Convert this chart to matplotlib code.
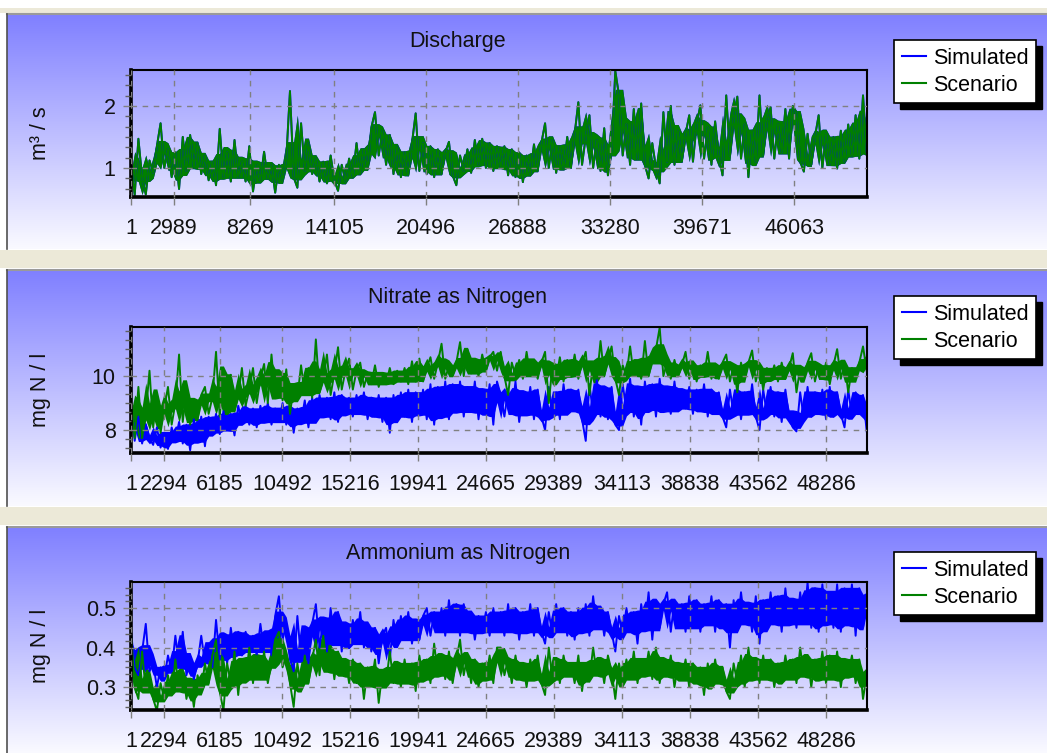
import numpy as np
import pandas as pd
import matplotlib
matplotlib.use('Agg')
import matplotlib.pyplot as plt
from matplotlib.patches import Rectangle
from matplotlib.lines import Line2D
from matplotlib.ticker import AutoMinorLocator

plt.rcParams['font.family'] = ['Liberation Sans', 'DejaVu Sans']

W, H = 1047, 753

# model time steps (200 read-off points across the run)
n_steps = 51100
timesteps = np.linspace(1, n_steps, 200)

discharge_ticks = [1, 2989, 8269, 14105, 20496, 26888, 33280, 39671, 46063]
quality_ticks = [1, 2294, 6185, 10492, 15216, 19941, 24665, 29389, 34113,
                 38838, 43562, 48286]

# Discharge: simulated and scenario are the same run
discharge_scen = [
    1.05, 0.56, 1.47, 0.85, 0.57, 1.12, 0.92, 1.35, 1.72, 1.00,
    1.30, 0.85, 1.25, 0.66, 1.50, 0.95, 1.53, 1.00, 1.40, 0.90,
    1.20, 0.80, 1.10, 0.72, 1.63, 0.85, 1.25, 0.78, 1.45, 0.85,
    1.10, 0.78, 1.35, 0.62, 1.05, 0.80, 1.26, 0.82, 1.05, 0.60,
    1.05, 0.80, 1.15, 2.24, 0.85, 0.68, 1.72, 0.95, 1.40, 0.90,
    1.15, 0.78, 1.10, 0.75, 1.20, 0.80, 0.63, 1.05, 0.78, 1.15,
    0.85, 1.40, 0.90, 1.30, 0.98, 1.65, 1.90, 1.20, 1.60, 1.05,
    1.53, 0.90, 1.35, 0.85, 1.25, 0.88, 1.40, 1.88, 0.95, 1.40,
    0.90, 1.35, 0.85, 1.30, 0.90, 1.25, 1.42, 0.88, 0.72, 1.20,
    0.95, 1.30, 0.92, 1.45, 1.05, 1.47, 1.00, 1.40, 0.95, 1.35,
    1.00, 1.35, 0.88, 1.30, 0.85, 1.25, 0.77, 1.20, 0.90, 1.38,
    0.95, 1.40, 1.72, 1.00, 1.45, 0.92, 1.35, 0.98, 1.50, 1.00,
    1.55, 2.06, 1.05, 1.50, 1.85, 1.00, 1.45, 0.95, 1.64, 0.88,
    1.30, 2.56, 2.17, 1.20, 1.70, 1.05, 1.95, 1.15, 2.04, 1.05,
    0.83, 1.40, 1.00, 0.75, 1.90, 1.10, 2.00, 1.05, 1.60, 1.10,
    1.55, 1.85, 1.10, 1.70, 2.01, 1.15, 1.65, 1.05, 1.75, 1.20,
    0.88, 2.17, 1.20, 1.80, 2.15, 1.15, 1.70, 0.85, 1.60, 1.10,
    2.17, 1.20, 1.75, 1.98, 1.15, 1.70, 1.25, 1.95, 1.15, 2.00,
    1.90, 1.10, 0.94, 1.55, 1.05, 1.50, 1.85, 1.00, 1.55, 1.05,
    1.50, 0.99, 1.60, 1.10, 1.70, 1.20, 1.85, 1.15, 2.17, 1.25,
]
discharge_sim = list(discharge_scen)

nitrate_sim = [
    8.9, 7.6, 8.5, 7.5, 8.2, 7.7, 7.45, 8.1, 7.35, 7.9,
    7.3, 8.1, 7.6, 8.3, 7.5, 8.2, 7.25, 8.4, 7.6, 8.5,
    7.4, 8.5, 7.9, 8.6, 7.85, 8.7, 8.0, 8.6, 7.8, 8.9,
    8.3, 8.9, 8.2, 8.8, 8.1, 8.9, 8.3, 9.0, 8.2, 8.8,
    8.3, 9.0, 8.2, 8.9, 7.9, 8.8, 8.3, 9.1, 8.1, 9.2,
    8.3, 9.3, 8.5, 9.2, 8.4, 9.4, 8.3, 9.3, 8.6, 9.2,
    8.5, 9.3, 8.6, 9.4, 8.4, 9.2, 8.5, 9.3, 8.3, 9.2,
    7.9, 9.3, 8.4, 9.4, 8.5, 9.5, 8.3, 9.4, 8.6, 9.5,
    8.4, 9.7, 8.2, 9.6, 8.5, 9.8, 8.4, 9.7, 8.7, 9.8,
    8.5, 9.6, 8.7, 9.8, 8.4, 9.5, 8.6, 9.7, 8.2, 9.8,
    9.3, 8.5, 9.5, 8.6, 9.8, 8.3, 9.4, 8.6, 9.6, 8.4,
    9.5, 8.5, 8.0, 9.6, 8.6, 9.4, 8.4, 9.7, 8.6, 9.5,
    8.7, 9.5, 8.4, 7.6, 9.7, 8.6, 9.9, 8.5, 9.6, 8.4,
    9.6, 8.2, 8.0, 9.7, 8.7, 9.9, 8.5, 9.6, 8.2, 9.8,
    8.8, 9.7, 8.5, 9.9, 8.7, 9.6, 8.6, 9.8, 8.7, 9.5,
    8.8, 9.6, 8.6, 9.5, 8.7, 9.7, 8.5, 9.5, 8.6, 9.4,
    8.5, 8.1, 9.5, 8.6, 9.6, 8.4, 9.4, 8.6, 9.7, 8.5,
    8.0, 9.5, 8.6, 9.6, 8.5, 9.4, 8.3, 9.5, 8.5, 8.1,
    7.95, 9.4, 8.4, 9.6, 8.5, 9.4, 8.6, 9.5, 8.4, 9.6,
    8.5, 9.4, 8.6, 8.1, 9.5, 8.5, 9.4, 8.6, 9.3, 7.95,
]

nitrate_scen = [
    9.0, 7.7, 9.6, 7.7, 8.6, 10.2, 8.1, 9.3, 7.9, 8.8,
    9.6, 8.2, 9.0, 10.8, 8.3, 9.55, 8.2, 9.1, 8.4, 9.3,
    9.6, 8.6, 9.2, 10.9, 8.5, 10.2, 8.6, 10.05, 8.7, 9.3,
    10.3, 8.9, 9.5, 10.3, 9.0, 9.9, 10.45, 9.0, 10.8, 9.2,
    10.1, 9.1, 10.25, 8.6, 9.6, 9.2, 10.4, 9.3, 10.3, 9.2,
    11.36, 9.4, 9.9, 10.8, 9.3, 10.1, 11.07, 9.5, 10.2, 10.65,
    9.5, 10.2, 10.5, 9.6, 10.1, 9.7, 10.4, 9.6, 10.1, 9.7,
    10.3, 9.7, 10.2, 9.8, 10.3, 9.7, 10.55, 9.8, 10.65, 9.8,
    10.3, 10.7, 9.9, 10.5, 11.2, 9.9, 10.4, 10.0, 10.5, 11.26,
    10.0, 11.0, 10.1, 10.6, 10.0, 10.8, 10.2, 10.7, 10.9, 10.2,
    10.9, 10.0, 9.3, 10.5, 10.0, 10.6, 9.9, 10.9, 10.0, 10.6,
    9.9, 10.5, 10.9, 9.0, 10.4, 9.9, 10.7, 9.8, 10.6, 10.0,
    10.8, 9.9, 10.5, 10.9, 9.3, 10.5, 9.9, 11.3, 10.0, 10.6,
    11.1, 9.9, 9.3, 10.4, 10.0, 11.1, 10.0, 10.5, 9.9, 11.3,
    10.0, 10.6, 11.0, 11.8, 10.0, 10.5, 9.9, 10.6, 10.0, 10.4,
    10.9, 9.9, 10.5, 9.8, 10.4, 10.0, 10.9, 9.9, 10.4, 9.9,
    10.5, 10.8, 9.8, 10.4, 9.4, 10.5, 9.9, 10.5, 10.95, 9.8,
    10.4, 9.5, 10.3, 9.9, 10.4, 9.8, 10.5, 9.9, 10.3, 10.85,
    9.4, 10.3, 9.9, 10.5, 10.85, 9.8, 10.4, 9.9, 10.5, 9.7,
    10.4, 11.0, 9.9, 10.5, 9.4, 10.3, 9.9, 10.5, 11.1, 10.2,
]

ammonium_sim = [
    0.44, 0.35, 0.33, 0.39, 0.46, 0.34, 0.36, 0.30, 0.35, 0.32,
    0.38, 0.34, 0.43, 0.35, 0.44, 0.33, 0.37, 0.32, 0.36, 0.43,
    0.36, 0.41, 0.35, 0.47, 0.37, 0.43, 0.36, 0.45, 0.38, 0.44,
    0.38, 0.44, 0.39, 0.43, 0.38, 0.46, 0.39, 0.44, 0.38, 0.48,
    0.53, 0.42, 0.46, 0.37, 0.34, 0.48, 0.37, 0.45, 0.36, 0.46,
    0.51, 0.40, 0.47, 0.39, 0.50, 0.41, 0.49, 0.39, 0.46, 0.40,
    0.47, 0.41, 0.49, 0.40, 0.46, 0.39, 0.45, 0.36, 0.43, 0.45,
    0.37, 0.47, 0.41, 0.48, 0.42, 0.49, 0.41, 0.47, 0.42, 0.48,
    0.50, 0.43, 0.49, 0.44, 0.50, 0.43, 0.52, 0.44, 0.51, 0.43,
    0.51, 0.44, 0.49, 0.42, 0.48, 0.44, 0.49, 0.43, 0.50, 0.44,
    0.49, 0.43, 0.51, 0.44, 0.50, 0.42, 0.49, 0.44, 0.51, 0.43,
    0.50, 0.44, 0.41, 0.49, 0.43, 0.51, 0.44, 0.50, 0.43, 0.49,
    0.42, 0.50, 0.44, 0.51, 0.43, 0.53, 0.45, 0.50, 0.43, 0.49,
    0.44, 0.39, 0.48, 0.43, 0.50, 0.44, 0.49, 0.41, 0.51, 0.45,
    0.54, 0.42, 0.52, 0.45, 0.51, 0.54, 0.44, 0.52, 0.45, 0.51,
    0.44, 0.53, 0.45, 0.52, 0.44, 0.51, 0.46, 0.53, 0.44, 0.52,
    0.45, 0.51, 0.40, 0.52, 0.45, 0.54, 0.46, 0.51, 0.44, 0.53,
    0.41, 0.52, 0.45, 0.54, 0.46, 0.53, 0.44, 0.55, 0.46, 0.52,
    0.45, 0.54, 0.46, 0.565, 0.45, 0.55, 0.44, 0.56, 0.46, 0.54,
    0.45, 0.56, 0.44, 0.55, 0.46, 0.56, 0.43, 0.55, 0.45, 0.53,
]

ammonium_scen = [
    0.44, 0.30, 0.27, 0.39, 0.29, 0.33, 0.27, 0.24, 0.31, 0.27,
    0.33, 0.28, 0.37, 0.29, 0.34, 0.27, 0.32, 0.25, 0.33, 0.29,
    0.36, 0.31, 0.38, 0.42, 0.29, 0.24, 0.36, 0.31, 0.39, 0.28,
    0.37, 0.32, 0.40, 0.31, 0.38, 0.32, 0.39, 0.31, 0.36, 0.42,
    0.44, 0.35, 0.38, 0.31, 0.25, 0.36, 0.30, 0.38, 0.31, 0.37,
    0.42, 0.33, 0.43, 0.34, 0.40, 0.32, 0.39, 0.33, 0.37, 0.31,
    0.37, 0.31, 0.36, 0.27, 0.35, 0.31, 0.37, 0.26, 0.34, 0.31,
    0.39, 0.31, 0.36, 0.30, 0.37, 0.31, 0.36, 0.29, 0.38, 0.32,
    0.37, 0.31, 0.41, 0.33, 0.38, 0.32, 0.39, 0.31, 0.37, 0.42,
    0.33, 0.38, 0.31, 0.37, 0.30, 0.36, 0.32, 0.38, 0.31, 0.40,
    0.40, 0.33, 0.37, 0.31, 0.38, 0.32, 0.36, 0.30, 0.37, 0.32,
    0.38, 0.31, 0.28, 0.40, 0.32, 0.37, 0.31, 0.38, 0.33, 0.36,
    0.31, 0.38, 0.29, 0.36, 0.32, 0.40, 0.33, 0.37, 0.31, 0.38,
    0.34, 0.27, 0.36, 0.31, 0.37, 0.32, 0.39, 0.31, 0.37, 0.33,
    0.39, 0.32, 0.40, 0.31, 0.37, 0.33, 0.38, 0.30, 0.36, 0.32,
    0.37, 0.30, 0.36, 0.31, 0.35, 0.28, 0.36, 0.30, 0.37, 0.31,
    0.35, 0.29, 0.27, 0.36, 0.31, 0.38, 0.30, 0.40, 0.32, 0.37,
    0.31, 0.38, 0.32, 0.37, 0.30, 0.36, 0.31, 0.38, 0.32, 0.37,
    0.31, 0.40, 0.33, 0.38, 0.30, 0.37, 0.32, 0.39, 0.31, 0.38,
    0.32, 0.39, 0.30, 0.37, 0.33, 0.38, 0.31, 0.37, 0.27, 0.33,
]

titles = ['Discharge', 'Nitrate as Nitrogen', 'Ammonium as Nitrogen']
units = ['m³ / s', 'mg N / l', 'mg N / l']
series_names = ['Simulated', 'Scenario']
sim_color, scen_color = '#0000FF', '#008000'


def dense_line(ax, x, y, color):
    # the original series is far denser than the screen: shade the core of
    # the band the trace keeps crossing, then draw the spikes on top
    win = pd.Series(y).rolling(4, center=True, min_periods=1)
    ax.fill_between(x, win.quantile(0.25), win.quantile(0.75),
                    color=color, lw=0)
    ax.plot(x, y, color=color, lw=1.4)


fig = plt.figure(figsize=(W / 100, H / 100), dpi=100)
fig.patch.set_facecolor('white')

# window-style background: beige separators and blue-to-white panels
bg = fig.add_axes([0, 0, 1, 1], zorder=-1)
bg.axis('off')
panel_spans = [(14, 249), (270, 506), (527, 753)]
grad = np.linspace(0, 1, 256)[:, None, None]
top_rgb = np.array([0.50, 0.50, 1.0])
bot_rgb = np.array([0.98, 0.98, 1.0])
grad_img = top_rgb * (1 - grad) + bot_rgb * grad
for sep in [(8, 13), (250, 268), (507, 525)]:
    bg.add_patch(Rectangle((0, sep[0]), W, sep[1] - sep[0], color='#ECE9D8', lw=0))
for top, bot in panel_spans:
    bg.imshow(grad_img, extent=(7, W, bot, top), aspect='auto', origin='upper')
    bg.plot([7, W], [top - 0.5, top - 0.5], color='#9A9A9A', lw=1.5)
    bg.plot([7, 7], [top, bot], color='#505050', lw=1.2)
bg.set_xlim(0, W)
bg.set_ylim(H, 0)

plot_spans = [(70, 197), (327, 453), (582, 710)]
title_y = [42, 298, 554]
legend_y = [40, 296, 552]
sims = [discharge_sim, nitrate_sim, ammonium_sim]
scens = [discharge_scen, nitrate_scen, ammonium_scen]
xticks_all = [discharge_ticks, quality_ticks, quality_ticks]
ylims = [(0.53, 2.58), (7.15, 11.82), (0.242, 0.566)]
yticks_all = [[1, 2], [8, 10], [0.3, 0.4, 0.5]]

fs = 15.5
for k in range(3):
    y0, y1 = plot_spans[k]
    ax = fig.add_axes([131 / W, 1 - y1 / H, (867 - 131) / W, (y1 - y0) / H])
    ax.set_facecolor('none')
    dense_line(ax, timesteps, sims[k], sim_color)
    dense_line(ax, timesteps, scens[k], scen_color)
    ax.set_xlim(1, 51120)
    ax.set_ylim(*ylims[k])
    ax.set_xticks(xticks_all[k])
    ax.set_xticklabels([str(t) for t in xticks_all[k]])
    ax.set_yticks(yticks_all[k])
    ax.set_yticklabels([str(t) for t in yticks_all[k]])
    ax.yaxis.set_minor_locator(AutoMinorLocator(6))
    ax.set_axisbelow(False)
    ax.grid(True, which='major', color='#808080', linestyle=(0, (4, 4)), lw=1)
    for s in ['left', 'bottom']:
        ax.spines[s].set_linewidth(2.6)
    for s in ['top', 'right']:
        ax.spines[s].set_linewidth(1.5)
    ax.tick_params(axis='x', length=6, width=1, color='#808080',
                   labelsize=fs, pad=9, labelcolor='#111111')
    ax.tick_params(axis='y', which='major', length=6, width=1, color='#808080',
                   labelsize=fs, pad=5, labelcolor='#111111')
    ax.tick_params(axis='y', which='minor', length=4, width=1, color='#606060')
    ax.set_ylabel(units[k], fontsize=fs, va='center', color='#111111')
    ax.yaxis.set_label_coords((40 - 131) / (867 - 131), 0.5)

    fig.text(458 / W, 1 - title_y[k] / H, titles[k], ha='center', va='center',
             fontsize=fs, color='#111111')

    handles = [Line2D([], [], color=sim_color, lw=1.5),
               Line2D([], [], color=scen_color, lw=1.5)]
    leg = fig.legend(handles, series_names, loc='upper left',
                     bbox_to_anchor=(894 / W, 1 - legend_y[k] / H),
                     bbox_transform=fig.transFigure, frameon=True, fancybox=False,
                     edgecolor='black', facecolor='white', framealpha=1,
                     fontsize=fs, borderpad=0.35, handlelength=1.15,
                     handletextpad=0.3, labelspacing=0.28, borderaxespad=0)
    leg.get_frame().set_linewidth(1.2)

# solid drop shadows behind the legend boxes
fig.canvas.draw()
for leg in fig.legends:
    bb = leg.get_window_extent()
    fig.add_artist(Rectangle(((bb.x0 + 6) / W, (bb.y0 - 6) / H), bb.width / W,
                             bb.height / H, transform=fig.transFigure,
                             color='black', zorder=leg.get_zorder() - 0.5))

fig.savefig('out.png', dpi=100)
